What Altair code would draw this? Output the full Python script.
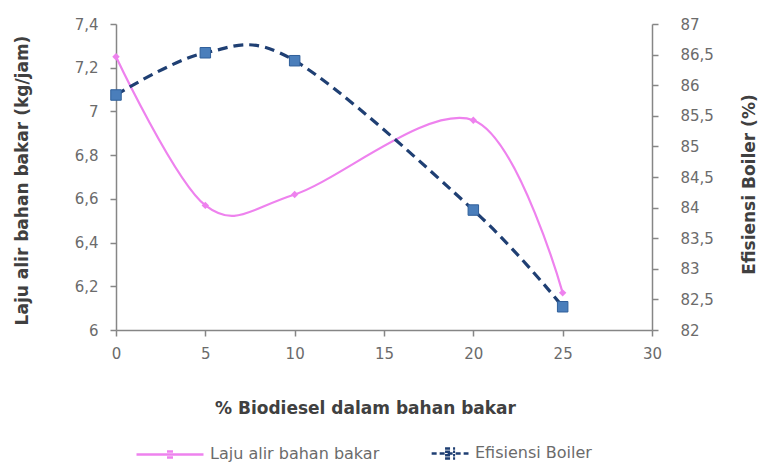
import altair as alt
import pandas as pd

# ---- data ----
biodiesel = [0, 5, 10, 20, 25]
laju_alir = [7.25, 6.57, 6.62, 6.96, 6.17]
efisiensi = [85.84, 86.53, 86.40, 83.96, 82.38]
series = ["Laju alir bahan bakar", "Efisiensi Boiler"]
x_ticks = [0, 5, 10, 15, 20, 25, 30]
left_ticks = [6, 6.2, 6.4, 6.6, 6.8, 7, 7.2, 7.4]
right_ticks = [82, 82.5, 83, 83.5, 84, 84.5, 85, 85.5, 86, 86.5, 87]

PINK = "#EE82EE"
NAVY = "#1F3F73"
BLUE = "#4A7EBB"
FONT = "DejaVu Sans"
AXIS_GRAY = "#868686"
LABEL_GRAY = "#6b6b6b"
TITLE_GRAY = "#404040"

df_laju = pd.DataFrame({"x": biodiesel, "y": laju_alir, "s": series[0]})
df_eff = pd.DataFrame({"x": biodiesel, "y": efisiensi, "s": series[1]})
df_leg = pd.DataFrame({"s": series})

comma = "replace(toString(datum.value), '.', ',')"

x_enc = alt.X(
    "x:Q",
    scale=alt.Scale(domain=[0, 30], nice=False, zero=False),
    axis=alt.Axis(
        values=x_ticks, title="% Biodiesel dalam bahan bakar",
        titleX=249, titleY=78, titleBaseline="middle", titleAlign="center",
        labelPadding=10, tickSize=6, grid=False, labelFlush=False,
    ),
)

y_left = alt.Y(
    "y:Q",
    scale=alt.Scale(domain=[6, 7.4], nice=False, zero=False),
    axis=alt.Axis(
        values=left_ticks, labelExpr=comma, orient="left",
        title="Laju alir bahan bakar (kg/jam)", titleAngle=270,
        titleX=-94, titleY=156, titleBaseline="middle", titleAlign="center",
        labelPadding=12, tickSize=6, grid=False, labelFlush=False,
    ),
)

y_right = alt.Y(
    "y:Q",
    scale=alt.Scale(domain=[82, 87], nice=False, zero=False),
    axis=alt.Axis(
        values=right_ticks, labelExpr=comma, orient="right",
        title="Efisiensi Boiler (%)", titleAngle=270,
        titleX=97, titleY=160, titleBaseline="middle", titleAlign="center",
        labelPadding=22, tickSize=6, grid=False, labelFlush=False,
    ),
)

laju_line = alt.Chart(df_laju).mark_line(
    color=PINK, strokeWidth=2.2, interpolate="cardinal"
).encode(x=x_enc, y=y_left)
laju_pts = alt.Chart(df_laju).mark_point(
    shape="diamond", filled=True, size=55, color=PINK, opacity=1
).encode(x=x_enc, y=y_left)
left_layer = alt.layer(laju_line, laju_pts)

eff_line = alt.Chart(df_eff).mark_line(
    color=NAVY, strokeWidth=3.2, strokeDash=[10, 6], interpolate="cardinal"
).encode(x=x_enc, y=y_right)
eff_pts = alt.Chart(df_eff).mark_point(
    shape="square", filled=True, size=110, fill=BLUE, stroke="#2F5F9A",
    strokeWidth=1, opacity=1
).encode(x=x_enc, y=y_right)
right_layer = alt.layer(eff_line, eff_pts)

# legend-only layer (no marks drawn)
pink_sym = ("M-1,0H1M-0.09,-0.09H0.09M-0.09,0H0.09M-0.09,0.09H0.09")
blue_sym = ("M-0.1,0H1M0.30,-0.15H0.60M0.30,-0.05H0.60M0.30,0.05H0.60M0.30,0.15H0.60")
leg = alt.Legend(title=None)
legend_layer = alt.Chart(df_leg).transform_filter("false").mark_point(
    filled=False, strokeWidth=2.5, opacity=1
).encode(
    color=alt.Color("s:N", scale=alt.Scale(domain=series, range=[PINK, NAVY]), legend=leg),
    shape=alt.Shape("s:N", scale=alt.Scale(domain=series, range=[pink_sym, blue_sym]), legend=leg),
    strokeDash=alt.StrokeDash("s:N", scale=alt.Scale(domain=series, range=[[1, 0], [5, 3]]), legend=leg),
)

chart = alt.layer(left_layer, right_layer, legend_layer).resolve_scale(
    y="independent"
).properties(
    width=536, height=306,
    autosize=alt.AutoSizeParams(type="none"),
    padding={"left": 116, "top": 24, "right": 113, "bottom": 138},
).configure_view(stroke=None).configure_axis(
    domainColor=AXIS_GRAY, domainWidth=1.5, tickColor=AXIS_GRAY, tickWidth=1.5,
    labelFont=FONT, labelFontSize=15, labelColor=LABEL_GRAY,
    titleFont=FONT, titleFontSize=17, titleFontWeight="bold", titleColor=TITLE_GRAY,
).configure_legend(
    orient="none", legendX=19, legendY=394, direction="horizontal",
    symbolSize=4489, symbolStrokeWidth=2.5, labelFont=FONT, labelFontSize=16,
    labelColor=LABEL_GRAY, labelOffset=5, columnPadding=20, labelLimit=400,
)

chart.save("out.html", embed_options={"renderer": "svg", "actions": False})
